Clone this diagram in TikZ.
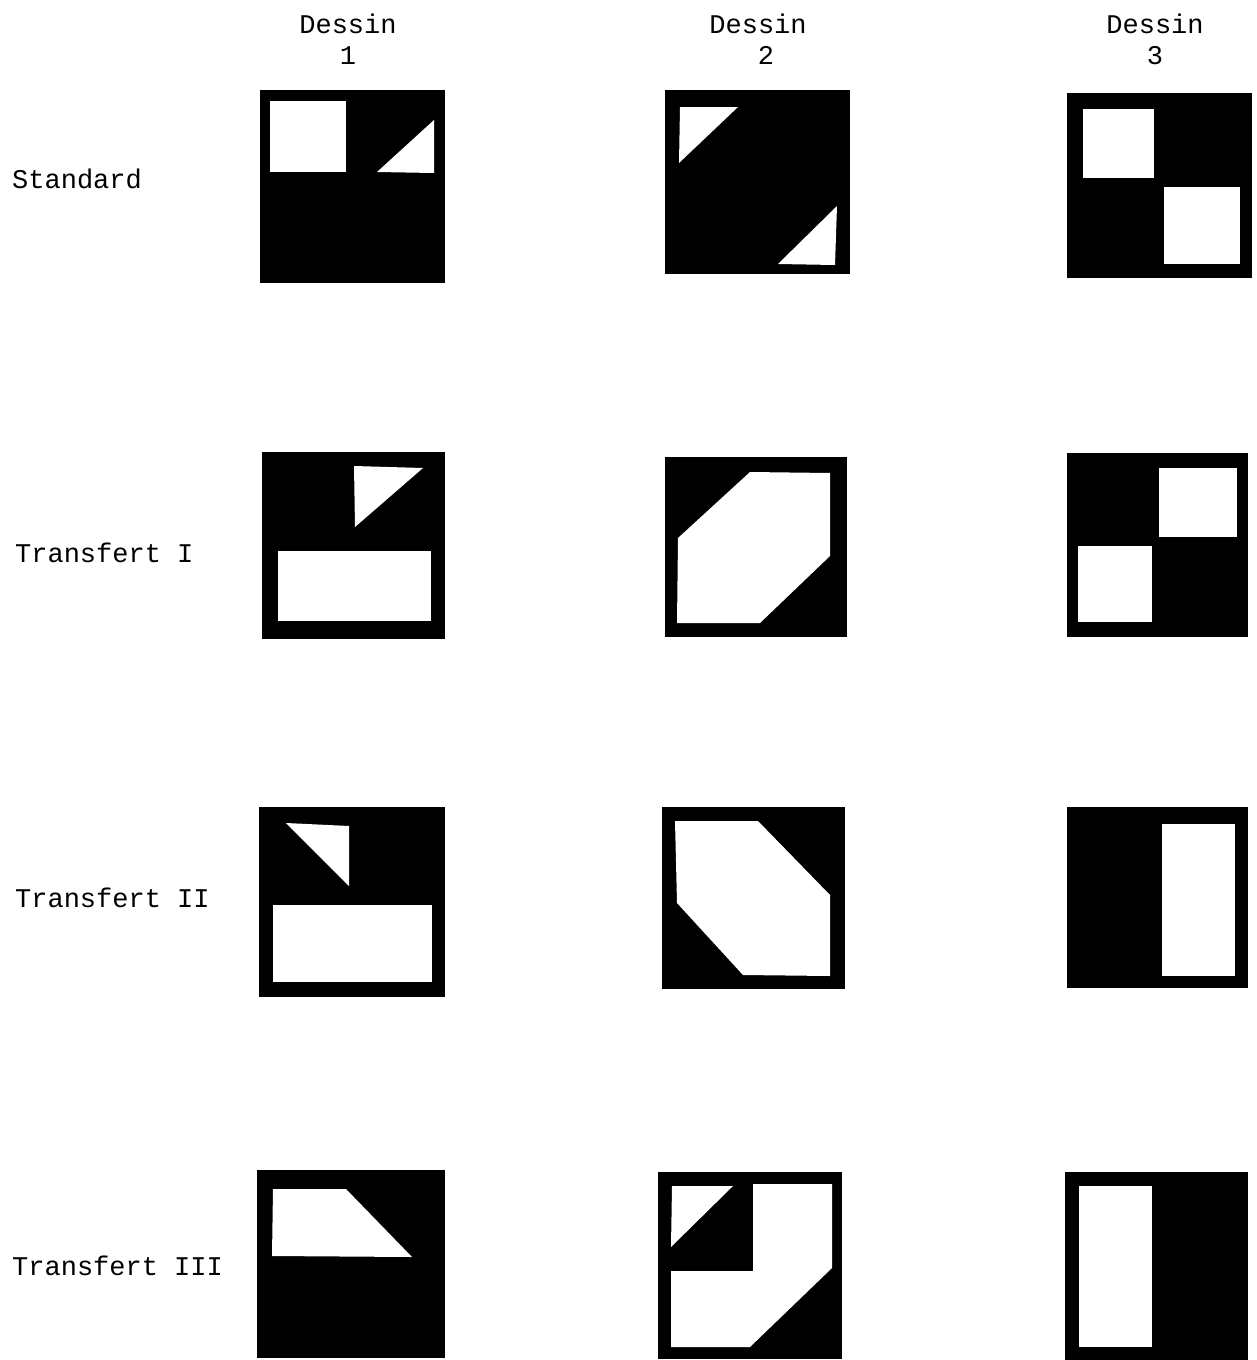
\documentclass[tikz,border=0pt]{standalone}
\usepackage{fontspec}
\setmonofont{Liberation Mono}
\begin{document}
\begin{tikzpicture}[x=1pt,y=-1pt,
  blk/.style={fill=black,draw=none},
  wht/.style={fill=white,draw=none},
  lbl/.style={font=\ttfamily\fontsize{27}{30}\selectfont,inner sep=0pt}]
\useasboundingbox (0,0) rectangle (1257,1360);
% headers
\node[lbl,anchor=base] (h1) at (348,33) {Dessin};
\node[lbl,anchor=base] (n1) at (348,64) {1};
\node[lbl,anchor=base] (h2) at (758,33) {Dessin};
\node[lbl,anchor=base] (n2) at (766,64) {2};
\node[lbl,anchor=base] (h3) at (1155,33) {Dessin};
\node[lbl,anchor=base] (n3) at (1155,64) {3};
% row labels
\node[lbl,anchor=base west] (r1) at (12,188) {Standard};
\node[lbl,anchor=base west] (r2) at (15,562) {Transfert I};
\node[lbl,anchor=base west] (r3) at (15,907) {Transfert II};
\node[lbl,anchor=base west] (r4) at (12,1275) {Transfert III};
% Standard / 1
\fill[blk] (260,90) rectangle (445,283);
\fill[wht] (270,101) rectangle (346,172);
\fill[wht] (377,172) -- (434,120) -- (434,173) -- cycle;
% Standard / 2
\fill[blk] (665,90) rectangle (850,274);
\fill[wht] (680,107) -- (738,107) -- (679,163) -- cycle;
\fill[wht] (837,206) -- (835,265) -- (778,264) -- cycle;
% Standard / 3
\fill[blk] (1067,93) rectangle (1252,278);
\fill[wht] (1083,109) rectangle (1154,178);
\fill[wht] (1164,187) rectangle (1240,264);
% Transfert I / 1
\fill[blk] (262,452) rectangle (445,639);
\fill[wht] (354,466) -- (423,468) -- (355,527) -- cycle;
\fill[wht] (278,551) rectangle (431,621);
% Transfert I / 2
\fill[blk] (665,457) rectangle (847,637);
\fill[wht] (750,472) -- (830,473) -- (830,556) -- (760,623) -- (677,623) -- (678,538) -- cycle;
% Transfert I / 3
\fill[blk] (1067,453) rectangle (1248,637);
\fill[wht] (1159,468) rectangle (1237,537);
\fill[wht] (1078,546) rectangle (1152,622);
% Transfert II / 1
\fill[blk] (259,807) rectangle (445,997);
\fill[wht] (286,823) -- (349,826) -- (349,886) -- cycle;
\fill[wht] (273,905) rectangle (432,982);
% Transfert II / 2
\fill[blk] (662,807) rectangle (845,989);
\fill[wht] (675,821) -- (758,821) -- (830,895) -- (830,976) -- (743,975) -- (677,903) -- cycle;
% Transfert II / 3
\fill[blk] (1067,807) rectangle (1248,988);
\fill[wht] (1162,824) rectangle (1235,976);
% Transfert III / 1
\fill[blk] (257,1170) rectangle (445,1358);
\fill[wht] (273,1189) -- (346,1189) -- (412,1257) -- (272,1256) -- cycle;
% Transfert III / 2
\fill[blk] (658,1172) rectangle (842,1359);
\fill[wht] (672,1186) -- (733,1186) -- (671,1247) -- cycle;
\fill[wht] (753,1184) -- (832,1184) -- (832,1268) -- (750,1347) -- (671,1347) -- (671,1271) -- (753,1271) -- cycle;
% Transfert III / 3
\fill[blk] (1065,1172) rectangle (1248,1360);
\fill[wht] (1079,1186) rectangle (1152,1347);
\end{tikzpicture}
\end{document}
